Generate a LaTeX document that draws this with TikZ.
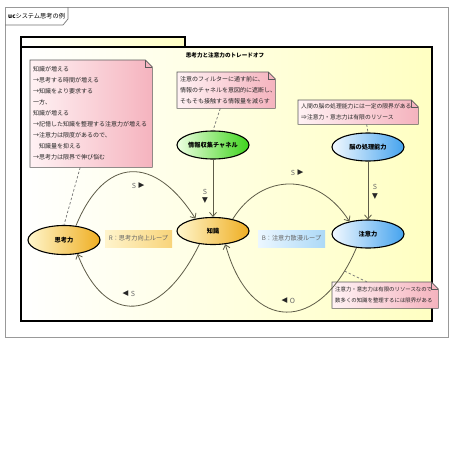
\documentclass[tikz,border=0pt]{standalone}
\usepackage{fontspec}
\newfontfamily\jp{Noto Sans CJK JP}
\newfontfamily\sym{DejaVu Sans}
\usetikzlibrary{shapes.geometric,arrows.meta,calc}
\pgfdeclarelayer{back}
\pgfdeclarelayer{mid}
\pgfsetlayers{back,mid,main}
\definecolor{notepinkL}{HTML}{FFF2F4}
\definecolor{notepinkR}{HTML}{F5B3BE}
\definecolor{oraL}{HTML}{FFF6CC}
\definecolor{oraR}{HTML}{EFAE22}
\definecolor{grnL}{HTML}{EEFFE2}
\definecolor{grnR}{HTML}{3ED41C}
\definecolor{bluL}{HTML}{F2F9FF}
\definecolor{bluR}{HTML}{45A3EE}
\definecolor{pkgY}{HTML}{FFFFC2}
\definecolor{linec}{HTML}{5E5C48}
\definecolor{rboxL}{HTML}{FFF4CC}
\definecolor{rboxR}{HTML}{F8D47A}
\definecolor{bboxL}{HTML}{ECF7FF}
\definecolor{bboxR}{HTML}{ACD9F7}
\newcommand\mynotebg[1]{%
  \begin{pgfonlayer}{mid}
  \shadedraw[left color=notepinkL, right color=notepinkR, draw=black!65, line width=0.6pt]
    (#1.south west) -- (#1.north west) -- ([xshift=-7pt]#1.north east)
    -- ([yshift=-7pt]#1.north east) -- (#1.south east) -- cycle;
  \draw[draw=black!65, line width=0.6pt] ([xshift=-7pt]#1.north east) |- ([yshift=-7pt]#1.north east);
  \end{pgfonlayer}}
\tikzset{
  ell/.style={ellipse, draw=black, line width=1.1pt, inner sep=0pt,
    minimum width=72pt, minimum height=28pt, font=\jp\bfseries\fontsize{6.2}{7}\selectfont},
  oraell/.style={ell, left color=oraL, right color=oraR},
  grnell/.style={ell, left color=grnL, right color=grnR},
  bluell/.style={ell, left color=bluL, right color=bluR},
  notebox/.style={anchor=north west, inner xsep=3pt, inner ysep=0pt, align=left,
    font=\jp\fontsize{6}{11}\selectfont, text=black!85},
  flow/.style={draw=linec, line width=0.8pt, -{Straight Barb[length=4pt,width=7pt]}},
  lbl/.style={font=\jp\fontsize{7}{8}\selectfont, text=black!60, inner sep=0pt},
  tri/.style={font=\sym\fontsize{7.5}{8}\selectfont, text=black!85, inner sep=0pt},
  notelink/.style={draw=black!55, dash pattern=on 2.5pt off 2pt, line width=0.7pt},
  loopbox/.style={inner sep=0pt, minimum width=67pt, minimum height=17pt,
    font=\jp\fontsize{6.2}{7}\selectfont, text=black!60}
}
\begin{document}
\begin{tikzpicture}[x=1pt,y=-1pt]
\useasboundingbox (0,0) rectangle (453,453);
\begin{pgfonlayer}{back}
  \fill[white] (0,0) rectangle (453,453);
  \draw[black!40, line width=0.9pt, fill=white] (5,7) rectangle (448,337);
  \draw[black!55, line width=0.7pt] (5,25) -- (63,25) -- (68,19) -- (68,7);
  \shadedraw[left color=white, right color=pkgY, line width=1.2pt] (21,37) rectangle (185,47);
  \shadedraw[left color=white, right color=pkgY, line width=1.2pt] (21,47) rectangle (432,321);
\end{pgfonlayer}
\node[font=\jp\fontsize{6.2}{7}\selectfont, anchor=west, inner sep=0pt] (frametitle) at (8,16.5)
  {{\bfseries uc}システム思考の例};
\node[font=\jp\bfseries\fontsize{5.6}{7}\selectfont, inner sep=0pt] (pkgtitle) at (225,55)
  {思考力と注意力のトレードオフ};

% notes
\node[notebox, text width=116pt, minimum height=107pt] (note1) at (30,60)
  {知識が増える\\→思考する時間が増える\\→知識をより要求する\\一方、\\知識が増える\\→記憶した知識を整理する注意力が増える\\→注意力は限度があるので、\\　知識量を抑える\\→思考力は限界で伸び悩む};
\mynotebg{note1}
\node[notebox, text width=92pt, minimum height=36pt] (note2) at (177,72)
  {注意のフィルターに通す前に、\\情報のチャネルを意図的に遮断し、\\そもそも接触する情報量を減らす};
\mynotebg{note2}
\node[notebox, text width=114pt, minimum height=24pt, font=\jp\fontsize{5.8}{11}\selectfont] (note3) at (298,100)
  {人間の脳の処理能力には一定の限界がある\\⇒注意力・意志力は有限のリソース};
\mynotebg{note3}
\node[notebox, text width=100pt, minimum height=26pt, font=\jp\fontsize{5.4}{11}\selectfont] (note4) at (332,282)
  {注意力・意志力は有限のリソースなので\\数多くの知識を整理するには限界がある};
\mynotebg{note4}

% use cases
\node[grnell] (channel) at (213,145) {情報収集チャネル};
\node[bluell] (brain) at (368,147) {脳の処理能力};
\node[oraell, minimum height=29pt] (shikou) at (64,240) {思考力};
\node[oraell, minimum height=27pt] (chishiki) at (213,231) {知識};
\node[bluell] (chui) at (368,234) {注意力};

% loop labels
\node[loopbox, left color=rboxL, right color=rboxR] (rloop) at (138.5,238.5) {R：思考力向上ループ};
\node[loopbox, left color=bboxL, right color=bboxR] (bloop) at (291.5,238.5) {B：注意力散漫ループ};

% connectors
\draw[flow] (shikou.50) .. controls (105,155) and (155,155) .. (chishiki.145);
\draw[flow] (chishiki.224) .. controls (160,325) and (105,325) .. (shikou.314);
\draw[flow] (chishiki.31) .. controls (262,172) and (318,172) .. (chui.146);
\draw[flow] (chui.230) .. controls (320,334) and (250,334) .. coordinate[pos=0.1] (c4) (chishiki.313);
\draw[flow] (channel.south) -- (chishiki.north);
\draw[flow] (brain.south) -- (chui.north);

% note links
\draw[notelink] ($(note1.south west)!0.41!(note1.south east)$) -- (shikou.north);
\draw[notelink] ($(note2.south west)!0.44!(note2.south east)$) -- (channel.north);
\draw[notelink] ($(note3.south west)!0.57!(note3.south east)$) -- (brain.north);
\draw[notelink] (c4) -- ($(note4.north west)!0.33!(note4.north east)$);

% edge labels
\node[lbl] (s1) at (134,186) {S};
\node[tri] (t1) at (141.5,186) {▶};
\node[tri] (t2) at (125.5,294) {◀};
\node[lbl] (s2) at (133,294) {S};
\node[lbl] (s3) at (205,192) {S};
\node[tri] (t3) at (205,201) {▼};
\node[lbl] (s4) at (293,173) {S};
\node[tri] (t4) at (300.5,173) {▶};
\node[lbl] (s5) at (375,187) {S};
\node[tri] (t5) at (375,196.5) {▼};
\node[tri] (t6) at (284.5,301) {◀};
\node[lbl] (o6) at (292.5,301) {O};
\end{tikzpicture}
\end{document}
